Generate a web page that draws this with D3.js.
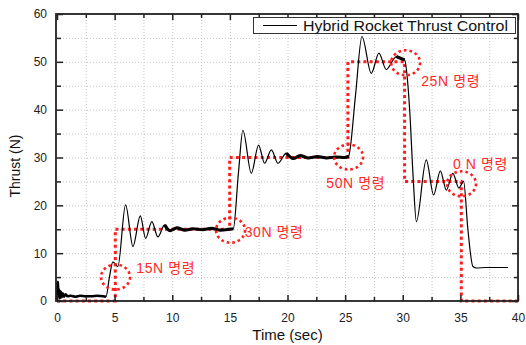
<!DOCTYPE html>
<html>
<head>
<meta charset="utf-8">
<script src="https://cdn.jsdelivr.net/npm/d3@7"></script>
<style>
    body { margin: 0; background: #fff; }
    text { font-family: "Liberation Sans", Arial, "Noto Sans CJK KR", sans-serif; }
</style>
</head>
<body>
<svg id="chart" width="526" height="345"></svg>
<script>
// Measured thrust trace (time in sec, thrust in N) - mostly the turning points
var timeSec = [0, 0.08, 0.12, 0.18, 0.25, 0.32, 0.4, 0.5, 0.6, 0.75, 0.9, 1.2, 1.6, 2.0, 2.5, 3.0, 3.5, 4.0, 4.25,
    4.55, 4.85, 5.28, 5.95, 6.59, 7.23, 7.69, 8.23, 8.75, 9.34, 9.8, 10.4, 11.1, 11.8, 12.6, 13.4, 14.2, 15.0, 15.3,
    15.75, 16.13, 16.86, 17.49, 18.01, 18.6, 19.17, 19.9, 20.5, 21.1, 21.8, 22.6, 23.4, 24.2, 25.0, 25.3,
    25.9, 26.46, 27.27, 27.93, 28.57, 29.44, 29.85, 30.16, 30.6, 30.9, 31.18, 32.04, 32.68, 33.26, 33.78,
    34.35, 34.87, 35.28, 35.65, 36.09, 36.4, 37.2, 38.2, 39.12];
var thrustN = [0.3, 4.0, 1.0, 2.4, 0.6, 2.0, 0.8, 1.6, 0.9, 1.4, 1.0, 1.1, 0.9, 1.1, 1.0, 1.0, 1.1, 1.0, 0.9,
    5.0, 8.2, 7.2, 20.1, 11.4, 17.8, 13.1, 16.6, 13.4, 15.9, 14.7, 15.3, 14.8, 15.1, 14.9, 15.2, 14.8, 15.0, 15.1,
    27.0, 35.7, 26.7, 32.6, 28.8, 31.6, 28.8, 30.9, 29.8, 30.4, 29.9, 30.2, 29.9, 30.1, 30.0, 30.3,
    43.0, 55.3, 47.6, 51.8, 48.4, 51.1, 50.7, 50.4, 40.0, 26.0, 16.6, 29.5, 22.2, 27.2, 23.2,
    26.7, 23.6, 25.0, 15.0, 7.2, 6.9, 7.0, 7.0, 7.0];

// Time ranges where the trace is a dense noisy band
var noisyStart = [0, 9.3, 19.6, 29.3];
var noisyEnd = [4.25, 15.3, 25.3, 30.16];

// Commanded thrust steps (value holds until next time)
var cmdTime = [0, 5.06, 14.98, 25.24, 30.16, 35.08, 40];
var cmdThrust = [0, 15, 30, 50, 25, 0, 0];

// Command annotations
var noteText = ['15N 명령', '30N 명령', '50N 명령', '25N 명령', '0 N 명령'];
var noteTime = [6.88, 16.28, 23.37, 31.6, 34.35];
var noteThrust = [5.8, 13.4, 23.6, 45.0, 27.6];
var circleTime = [5.08, 15.06, 25.3, 30.25, 35.1];
var circleThrust = [5.0, 14.8, 30.1, 49.8, 24.5];

// Axis ticks
var xTicks = [0, 5, 10, 15, 20, 25, 30, 35, 40];
var xMinor = [2.5, 7.5, 12.5, 17.5, 22.5, 27.5, 32.5, 37.5];
var yTicks = [0, 10, 20, 30, 40, 50, 60];
var yMinor = [5, 15, 25, 35, 45, 55];

var legendLabel = 'Hybrid Rocket Thrust Control';

var svg = d3.select('#chart');
// plot box edges (note: "top" is reserved on window, so use plot* names)
var plotLeft = 57, plotRight = 518, plotTop = 14, plotBottom = 301;

var x = d3.scaleLinear().domain([0, 40]).range([plotLeft, plotRight]);
var y = d3.scaleLinear().domain([0, 60]).range([plotBottom, plotTop]);

// Dotted grid at every major and minor tick
var grid = svg.append('g')
    .attr('stroke', '#c4c4c4')
    .attr('stroke-width', 1)
    .attr('stroke-dasharray', '1,2');
grid.selectAll('.gx')
    .data(xTicks.concat(xMinor).filter(function(d) { return d > 0 && d < 40; }))
    .enter().append('line')
    .attr('x1', function(d) { return x(d) + 0.5; })
    .attr('x2', function(d) { return x(d) + 0.5; })
    .attr('y1', plotTop).attr('y2', plotBottom);
grid.selectAll('.gy')
    .data(yTicks.concat(yMinor).filter(function(d) { return d > 0 && d < 60; }))
    .enter().append('line')
    .attr('y1', function(d) { return y(d) + 0.5; })
    .attr('y2', function(d) { return y(d) + 0.5; })
    .attr('x1', plotLeft).attr('x2', plotRight);

// Commanded step line (red dotted)
var stepLine = d3.line()
    .x(function(d, i) { return x(cmdTime[i]); })
    .y(function(d, i) { return y(cmdThrust[i]); })
    .curve(d3.curveStepAfter);
svg.append('path')
    .attr('d', stepLine(cmdTime))
    .attr('fill', 'none')
    .attr('stroke', '#ff1c1c')
    .attr('stroke-width', 3)
    .attr('stroke-dasharray', '3,3.2');

// Thrust trace, smoothed between the read-off points
var traceLine = d3.line()
    .x(function(d) { return x(timeSec[d]); })
    .y(function(d) { return y(thrustN[d]); })
    .curve(d3.curveMonotoneX);
var idx = d3.range(timeSec.length);
svg.append('path')
    .attr('d', traceLine(idx))
    .attr('fill', 'none')
    .attr('stroke', '#000')
    .attr('stroke-width', 1.2)
    .attr('stroke-linejoin', 'round');

// Thicker overlay where the signal is a noisy band
noisyStart.forEach(function(t0, k) {
    var sub = idx.filter(function(i) { return timeSec[i] >= t0 && timeSec[i] <= noisyEnd[k]; });
    svg.append('path')
        .attr('d', traceLine(sub))
        .attr('fill', 'none')
        .attr('stroke', '#000')
        .attr('stroke-width', k == 0 ? 2.6 : 3.2)
        .attr('stroke-linejoin', 'round');
});

// Dotted ellipses marking each command
svg.selectAll('.cmdCircle')
    .data(circleTime)
    .enter().append('ellipse')
    .attr('cx', function(d) { return x(d); })
    .attr('cy', function(d, i) { return y(circleThrust[i]); })
    .attr('rx', 14.5)
    .attr('ry', 12.5)
    .attr('fill', 'none')
    .attr('stroke', '#ff1c1c')
    .attr('stroke-width', 2.6)
    .attr('stroke-dasharray', '2.6,3');

// Command labels
svg.selectAll('.note')
    .data(noteText)
    .enter().append('text')
    .attr('x', function(d, i) { return x(noteTime[i]); })
    .attr('y', function(d, i) { return y(noteThrust[i]); })
    .attr('fill', '#ff2a2a')
    .style('font-size', '14px')
    .style('letter-spacing', '0.6px')
    .text(function(d) { return d; });

// Axes with inward ticks on all four sides
function addAxis(axis, transform) {
    var g = svg.append('g').attr('transform', transform).call(axis);
    g.select('.domain').remove();
    g.selectAll('line').attr('stroke', '#222').attr('stroke-width', 1.5);
    g.selectAll('text').style('font-size', '12px').attr('fill', '#222');
    return g;
}
addAxis(d3.axisBottom(x).tickValues(xTicks).tickSize(-6).tickPadding(12).tickFormat(d3.format('d')),
    'translate(0,' + plotBottom + ')');
addAxis(d3.axisBottom(x).tickValues(xMinor).tickSize(-4).tickFormat(''),
    'translate(0,' + plotBottom + ')');
addAxis(d3.axisTop(x).tickValues(xTicks).tickSize(-6).tickFormat(''),
    'translate(0,' + plotTop + ')');
addAxis(d3.axisTop(x).tickValues(xMinor).tickSize(-4).tickFormat(''),
    'translate(0,' + plotTop + ')');
addAxis(d3.axisLeft(y).tickValues(yTicks).tickSize(-6).tickPadding(10).tickFormat(d3.format('d')),
    'translate(' + plotLeft + ',0)');
addAxis(d3.axisLeft(y).tickValues(yMinor).tickSize(-4).tickFormat(''),
    'translate(' + plotLeft + ',0)');
addAxis(d3.axisRight(y).tickValues(yTicks).tickSize(-6).tickFormat(''),
    'translate(' + plotRight + ',0)');
addAxis(d3.axisRight(y).tickValues(yMinor).tickSize(-4).tickFormat(''),
    'translate(' + plotRight + ',0)');

// Frame
svg.append('rect')
    .attr('x', plotLeft - 1).attr('y', plotTop)
    .attr('width', plotRight - plotLeft + 1).attr('height', plotBottom - plotTop)
    .attr('fill', 'none')
    .attr('stroke', '#222')
    .attr('stroke-width', 1.8);

// Axis titles
svg.append('text')
    .attr('x', (plotLeft + plotRight) / 2)
    .attr('y', 340)
    .attr('text-anchor', 'middle')
    .style('font-size', '15px')
    .attr('fill', '#111')
    .text('Time (sec)');
svg.append('text')
    .attr('transform', 'translate(20,166) rotate(-90)')
    .attr('text-anchor', 'middle')
    .style('font-size', '14px')
    .attr('fill', '#111')
    .text('Thrust (N)');

// Legend
var legend = svg.append('g');
legend.append('rect')
    .attr('x', 253.5).attr('y', 17.5)
    .attr('width', 262).attr('height', 16)
    .attr('fill', '#fff')
    .attr('stroke', '#333')
    .attr('stroke-width', 1);
legend.append('line')
    .attr('x1', 263).attr('x2', 297)
    .attr('y1', 25.5).attr('y2', 25.5)
    .attr('stroke', '#000')
    .attr('stroke-width', 1);
legend.append('text')
    .attr('x', 303).attr('y', 31)
    .style('font-size', '14px')
    .attr('textLength', 205)
    .attr('lengthAdjust', 'spacingAndGlyphs')
    .attr('fill', '#111')
    .text(legendLabel);
</script>
</body>
</html>
